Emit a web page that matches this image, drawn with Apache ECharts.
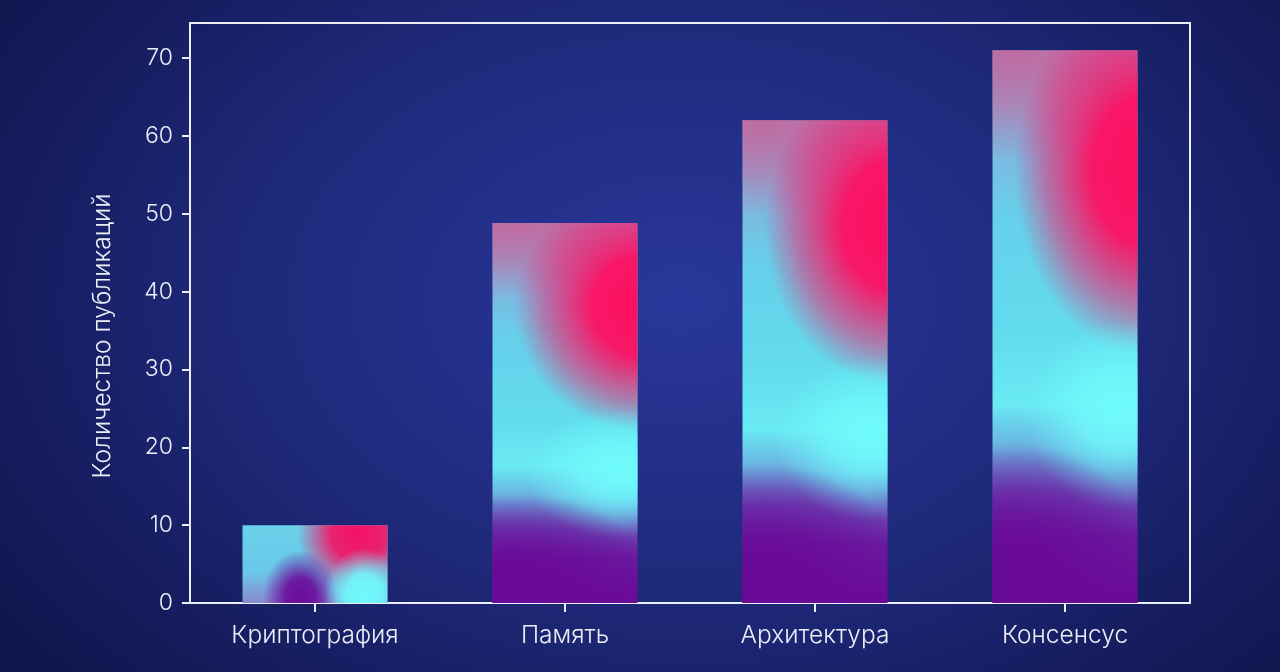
<!DOCTYPE html>
<html>
<head>
<meta charset="utf-8">
<script src="https://cdn.jsdelivr.net/npm/echarts@6/dist/echarts.min.js"></script>
<style>
html,body{margin:0;padding:0;width:1280px;height:672px;overflow:hidden;}
#c{width:1280px;height:672px;background:radial-gradient(ellipse 820px 560px at 680px 300px,#29379a 0%,#1f2a7c 50%,#10164e 100%);}
</style>
</head>
<body>
<div id="c"></div>
<script>
// ---- data ----
const categories = ['Криптография', 'Память', 'Архитектура', 'Консенсус'];
const publications = [10, 48.8, 62, 71];
const yTickValues = [0, 10, 20, 30, 40, 50, 60, 70];
const yAxisTitle = 'Количество публикаций';

// ---- styles (mesh-like gradient blobs, relative to bar box) ----
const tallMesh = {
  base: [[0, '#a88ac0'], [0.14, '#84b0dc'], [0.3, '#66d0ea'], [0.52, '#62dcee'], [0.64, '#6aeaf4'], [0.72, '#6ab0e0'], [0.8, '#6a50b8'], [0.88, '#6a1ca0'], [1, '#6a0a96']],
  blobs: [
    {cu: 0.15, cv: 0.0, ru: 0.8, rv: 0.2, c: [200, 96, 150], stops: [[0, 0.75], [0.5, 0.45], [1, 0]]},
    {cu: 1.05, cv: 0.22, ru: 0.9, rv: 0.33, c: [255, 14, 96], stops: [[0, 1], [0.4, 0.95], [0.75, 0.45], [1, 0]]},
    {cu: 0.88, cv: 0.66, ru: 0.65, rv: 0.17, c: [112, 252, 252], stops: [[0, 1], [0.4, 0.75], [0.75, 0.3], [1, 0]]},
    {cu: 0.15, cv: 0.98, ru: 1.05, rv: 0.27, c: [106, 10, 152], stops: [[0, 1], [0.35, 0.9], [0.7, 0.45], [1, 0]]}
  ]
};
const shortMesh = {
  base: [[0, '#6ad2ea'], [0.6, '#68c8e8'], [1, '#8a8ad0']],
  blobs: [
    {cu: 0.8, cv: 0.12, ru: 0.42, rv: 0.75, c: [245, 16, 100], stops: [[0, 1], [0.45, 0.9], [1, 0]]},
    {cu: 0.4, cv: 0.92, ru: 0.26, rv: 0.6, c: [106, 12, 156], stops: [[0, 1], [0.4, 0.9], [1, 0]]},
    {cu: 0.84, cv: 0.9, ru: 0.28, rv: 0.6, c: [112, 250, 252], stops: [[0, 1], [0.45, 0.9], [1, 0]]}
  ]
};
const meshes = [shortMesh, tallMesh, tallMesh, tallMesh];

function blobEl(x, y, w, h, b) {
  const stops = b.stops.map(s => ({offset: s[0], color: 'rgba(' + b.c.join(',') + ',' + s[1] + ')'}));
  return {
    type: 'rect', silent: true,
    x: x + b.cu * w, y: y + b.cv * h, scaleX: b.ru * w, scaleY: b.rv * h,
    shape: {x: -b.cu / b.ru, y: -b.cv / b.rv, width: 1 / b.ru, height: 1 / b.rv},
    style: {fill: new echarts.graphic.RadialGradient(0, 0, 1, stops, true)}
  };
}

const chart = echarts.init(document.getElementById('c'), null, {renderer: 'canvas'});
const lineColor = '#eceef6';
const font = 'Inter';
chart.setOption({
  animation: false,
  backgroundColor: 'transparent',
  grid: {left: 190, right: 90, top: 23, bottom: 69, show: true, borderColor: lineColor, borderWidth: 2, backgroundColor: 'transparent'},
  xAxis: {
    type: 'category', data: categories,
    axisLine: {show: true, lineStyle: {color: lineColor, width: 2}},
    axisTick: {show: true, alignWithLabel: true, length: 9, lineStyle: {color: lineColor, width: 2}},
    axisLabel: {color: lineColor, fontSize: 24.5, fontFamily: font, fontWeight: 300, margin: 20}
  },
  yAxis: {
    type: 'value', min: 0, max: 74.5, interval: 10,
    name: yAxisTitle, nameLocation: 'middle', nameRotate: 90, nameGap: 75,
    nameTextStyle: {color: lineColor, fontSize: 24.5, fontFamily: font, fontWeight: 300, padding: [0, 46, 0, 0]},
    splitLine: {show: false},
    axisLine: {show: true, lineStyle: {color: lineColor, width: 2}},
    axisTick: {show: true, length: 8, customValues: yTickValues, lineStyle: {color: lineColor, width: 2}},
    axisLabel: {color: lineColor, fontSize: 23, fontFamily: font, fontWeight: 300, margin: 17, customValues: yTickValues}
  },
  series: [{
    type: 'custom',
    data: publications.map((v, i) => [i, v]),
    encode: {x: 0, y: 1},
    renderItem: function (params, api) {
      const i = api.value(0), v = api.value(1);
      const top = api.coord([i, v]);
      const base = api.coord([i, 0]);
      const bw = api.size([1, 0])[0] * 0.58;
      const x = top[0] - bw / 2, y = top[1], w = bw, h = base[1] - top[1];
      const m = meshes[params.dataIndex];
      const children = [{
        type: 'rect', silent: true,
        shape: {x: x, y: y, width: w, height: h},
        style: {fill: new echarts.graphic.LinearGradient(0, 0, 0, 1, m.base.map(s => ({offset: s[0], color: s[1]})))}
      }];
      m.blobs.forEach(b => children.push(blobEl(x, y, w, h, b)));
      return {type: 'group', children: children};
    }
  }]
});
</script>
</body>
</html>
